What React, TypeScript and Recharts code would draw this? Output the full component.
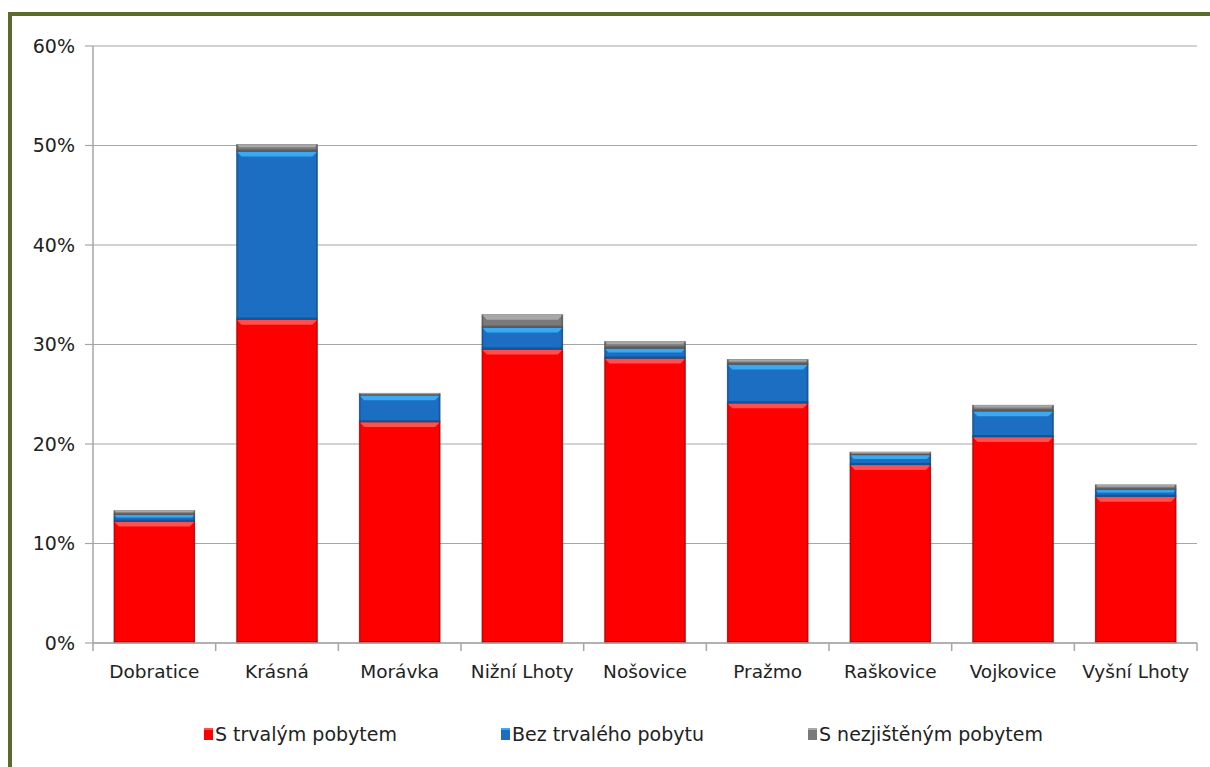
import React from "react";
import { BarChart, Bar, XAxis, YAxis, CartesianGrid, Legend } from "recharts";

const CATEGORIES = [
  "Dobratice",
  "Krásná",
  "Morávka",
  "Nižní Lhoty",
  "Nošovice",
  "Pražmo",
  "Raškovice",
  "Vojkovice",
  "Vyšní Lhoty",
];

// values in percent
const TRVALY = [12.2, 32.5, 22.2, 29.5, 28.6, 24.1, 17.9, 20.7, 14.7];
const BEZ_TRVALEHO = [0.7, 16.9, 2.7, 2.2, 1.0, 3.9, 1.0, 2.6, 0.7];
const NEZJISTENY = [0.4, 0.7, 0.2, 1.3, 0.7, 0.5, 0.3, 0.6, 0.5];

const Y_TICKS = [0, 10, 20, 30, 40, 50, 60];

const SERIES = [
  { key: "trvaly", name: "S trvalým pobytem", fill: "#ff0000", light: "#ff5050", dark: "#b80000" },
  { key: "bez", name: "Bez trvalého pobytu", fill: "#1b6ec2", light: "#3ba8f2", dark: "#0f4a87" },
  { key: "nezjisteny", name: "S nezjištěným pobytem", fill: "#7a7a7a", light: "#a8a8a8", dark: "#505050" },
];

const data = CATEGORIES.map((name, i) => ({
  name,
  trvaly: TRVALY[i],
  bez: BEZ_TRVALEHO[i],
  nezjisteny: NEZJISTENY[i],
}));

const FONT = "'DejaVu Sans', Verdana, sans-serif";
const TEXT = "#222";

function makeShape(s: { fill: string; light: string; dark: string }) {
  return (props: any) => {
    const { x, y, width, height } = props;
    if (!height || height <= 0) return null;
    const b = Math.min(5, height / 2.5);
    const e = Math.min(2, height / 3);
    return (
      <g>
        <rect x={x} y={y} width={width} height={height} fill={s.fill} stroke="rgba(0,0,0,0.3)" strokeWidth={0.8} />
        <polygon
          points={`${x},${y} ${x + width},${y} ${x + width - b},${y + b} ${x + b},${y + b}`}
          fill={s.light}
        />
        <rect x={x} y={y + height - e} width={width} height={e} fill={s.dark} opacity={0.7} />
        <rect x={x} y={y} width={1.5} height={height} fill={s.dark} opacity={0.5} />
        <rect x={x + width - 1.5} y={y} width={1.5} height={height} fill={s.dark} opacity={0.5} />
      </g>
    );
  };
}

function XTick(props: any) {
  const { x, y, payload } = props;
  const axisY = y - 22;
  const off = payload.offset || 0;
  return (
    <g>
      <line x1={x + off} x2={x + off} y1={axisY} y2={axisY + 8} stroke="#a6a6a6" strokeWidth={1.5} />
      {payload.index === 0 && (
        <line x1={x - off} x2={x - off} y1={axisY} y2={axisY + 8} stroke="#a6a6a6" strokeWidth={1.5} />
      )}
      <text x={x} y={y} dy="0.71em" textAnchor="middle" fill={TEXT} fontSize={18.5} fontFamily={FONT}>
        {payload.value}
      </text>
    </g>
  );
}

function LegendContent() {
  return (
    <div
      style={{
        display: "flex",
        justifyContent: "flex-start",
        paddingLeft: 204,
        gap: 104,
        fontFamily: FONT,
        fontSize: 19,
        color: TEXT,
        lineHeight: "22px",
      }}
    >
      {SERIES.map((s) => (
        <div key={s.key} style={{ display: "flex", alignItems: "center" }}>
          <span
            style={{
              display: "inline-block",
              width: 9,
              height: 10,
              background: s.fill,
              borderTop: `2px solid ${s.light}`,
              marginRight: 2,
            }}
          />
          <span>{s.name}</span>
        </div>
      ))}
    </div>
  );
}

export default function App() {
  return (
    <div
      style={{
        position: "absolute",
        left: 0,
        top: 0,
        width: 1210,
        height: 767,
        overflow: "hidden",
        background: "#fff",
      }}
    >
      <div
        style={{
          position: "absolute",
          left: 8,
          top: 12,
          width: 1240,
          height: 800,
          border: "4px solid #5a6b2c",
        }}
      />
      <div style={{ position: "absolute", left: 0, top: 0 }}>
        <BarChart
          width={1210}
          height={767}
          data={data}
          margin={{ top: 46, right: 13, bottom: 0, left: 0 }}
          barCategoryGap="17%"
        >
          <CartesianGrid vertical={false} stroke="#a6a6a6" strokeWidth={1.2} />
          <XAxis
            dataKey="name"
            height={102}
            tickLine={false}
            tickSize={8}
            tickMargin={14}
            axisLine={{ stroke: "#a6a6a6", strokeWidth: 1.5 }}
            tick={<XTick />}
            interval={0}
          />
          <YAxis
            width={93}
            domain={[0, 60]}
            ticks={Y_TICKS}
            tickFormatter={(v: number) => `${v}%`}
            tickSize={8}
            tickMargin={10}
            tickLine={{ stroke: "#a6a6a6", strokeWidth: 1.2 }}
            axisLine={{ stroke: "#a6a6a6", strokeWidth: 1.5 }}
            tick={{ fill: TEXT, fontSize: 19, fontFamily: FONT }}
          />
          <Legend
            content={<LegendContent />}
            wrapperStyle={{ position: "absolute", top: 723, left: 0, width: 1210 }}
          />
          {SERIES.map((s) => (
            <Bar
              key={s.key}
              dataKey={s.key}
              name={s.name}
              stackId="a"
              fill={s.fill}
              shape={makeShape(s)}
              isAnimationActive={false}
            />
          ))}
        </BarChart>
      </div>
    </div>
  );
}
